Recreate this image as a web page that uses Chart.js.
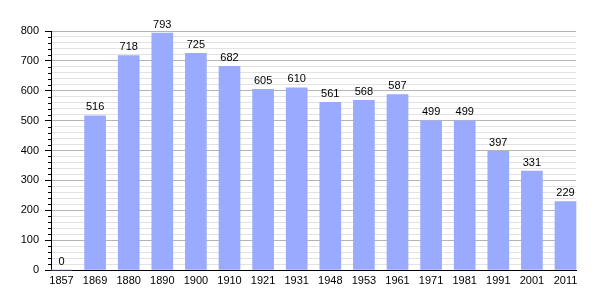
<!DOCTYPE html>
<html><head><meta charset="utf-8">
<script src="https://cdn.jsdelivr.net/npm/chart.js@4"></script>
<style>html,body{margin:0;padding:0;background:#fff}#wrap{width:605px;height:300px}</style>
</head><body><div id="wrap"><canvas id="c" width="605" height="300"></canvas></div>
<script>
const years = ["1857","1869","1880","1890","1900","1910","1921","1931","1948","1953","1961","1971","1981","1991","2001","2011"];
const population = [0,516,718,793,725,682,605,610,561,568,587,499,499,397,331,229];
const yMax = 800, yMajorStep = 100, yMinorStep = 20;

const FONT = {family: "'Liberation Sans', Arial, sans-serif", size: 11};

const labelsPlugin = {
  id: 'barLabels',
  afterDatasetsDraw(chart) {
    const ctx = chart.ctx;
    const meta = chart.getDatasetMeta(0);
    ctx.save();
    ctx.font = `${FONT.size}px ${FONT.family}`;
    ctx.fillStyle = '#000';
    ctx.textAlign = 'center';
    ctx.textBaseline = 'bottom';
    meta.data.forEach((el, i) => {
      ctx.fillText(String(population[i]), el.x, el.y - 3);
    });
    ctx.restore();
  }
};
const minorTicks = {
  id: 'minorTicks',
  afterDraw(chart) {
    const s = chart.scales.y, ctx = chart.ctx;
    ctx.save();
    ctx.strokeStyle = '#000';
    ctx.lineWidth = 1;
    for (let v = 0; v <= yMax; v += yMinorStep) {
      if (v % yMajorStep === 0) continue;
      const y = Math.round(s.getPixelForValue(v)) + 0.5;
      ctx.beginPath();
      ctx.moveTo(s.right - 3, y);
      ctx.lineTo(s.right, y);
      ctx.stroke();
    }
    ctx.restore();
  }
};

new Chart(document.getElementById('c'), {
  type: 'bar',
  data: {
    datasets: [{
      data: population.map((v, i) => ({x: i, y: v})),
      backgroundColor: '#99aaff',
      borderWidth: 0,
      barThickness: 21,
      clip: false
    }]
  },
  options: {
    responsive: false,
    animation: false,
    devicePixelRatio: 1,
    layout: {padding: {top: 31, right: 29, left: 0, bottom: 0}},
    plugins: {legend: {display: false}, tooltip: {enabled: false}},
    scales: {
      x: {
        type: 'linear',
        offset: false,
        min: -0.3125,
        max: years.length - 1 + 0.3125,
        afterFit: s => { s.height = 30; },
        grid: {display: false, drawTicks: false},
        border: {display: true, color: '#000', width: 1},
        ticks: {
          stepSize: 1,
          includeBounds: false,
          autoSkip: false,
          maxRotation: 0,
          padding: 4,
          color: '#000',
          font: FONT,
          callback: v => Number.isInteger(v) ? years[v] : ''
        }
      },
      y: {
        min: 0,
        max: yMax,
        afterFit: s => { s.width = 51; },
        grid: {
          color: c => (c.tick && c.tick.value % yMajorStep === 0) ? '#b4b4b4' : '#e2e2e2',
          tickColor: c => (c.tick && c.tick.value % yMajorStep === 0) ? '#000' : 'rgba(0,0,0,0)',
          tickLength: 6,
          drawTicks: true
        },
        border: {display: true, color: '#000', width: 1},
        ticks: {
          stepSize: yMinorStep,
          autoSkip: false,
          padding: 6,
          color: '#000',
          font: FONT,
          callback: v => v % yMajorStep === 0 ? String(v) : ''
        }
      }
    }
  },
  plugins: [labelsPlugin, minorTicks]
});
</script></body></html>
